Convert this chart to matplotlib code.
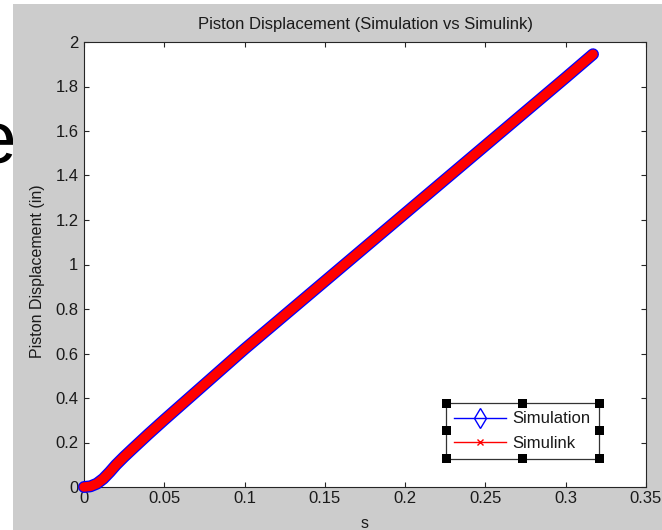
import matplotlib
matplotlib.use("Agg")
import matplotlib.pyplot as plt
import numpy as np
from matplotlib.lines import Line2D
from matplotlib.patches import Rectangle
from matplotlib.ticker import FuncFormatter

plt.rcParams['font.family'] = ['Liberation Sans', 'DejaVu Sans']

# --- data ---
t = [0, 0.004, 0.008, 0.012, 0.016, 0.02, 0.025, 0.03, 0.04, 0.05, 0.1, 0.15, 0.2, 0.25, 0.3, 0.317]
sim_y = [0, 0.003, 0.015, 0.037, 0.067, 0.1, 0.136, 0.17, 0.237, 0.302, 0.62, 0.925, 1.23, 1.535, 1.84, 1.945]
slk_y = [0, 0.003, 0.015, 0.037, 0.067, 0.1, 0.136, 0.17, 0.237, 0.302, 0.62, 0.925, 1.23, 1.535, 1.84, 1.945]
x_ticks = np.arange(0, 0.351, 0.05)
y_ticks = np.arange(0, 2.01, 0.2)
labels = ["Simulation", "Simulink"]

W, H = 662, 530
fig = plt.figure(figsize=(W / 100, H / 100), dpi=100, facecolor="white")

# 灰底 (matlab figure) + 左邊被切到的投影片文字
fig.patches.append(Rectangle((13 / W, 0), 1 - 13 / W, 1 - 4 / H, transform=fig.transFigure,
                             facecolor="#cccccc", edgecolor="none", zorder=-2))
fig.text(17 / W, 1 - 163 / H, "e", fontsize=54, ha="right", va="baseline", color="black", zorder=-3)

ax = fig.add_axes([84 / W, 1 - 487 / H, 562 / W, 445 / H])
ax.set_facecolor("white")

ax.plot(t, sim_y, color="#0000ff", lw=8.6, solid_capstyle="round", clip_on=False, zorder=3)
ax.plot(t, slk_y, color="#ff0000", lw=6.8, solid_capstyle="round", clip_on=False, zorder=4)

ax.set_xlim(0, 0.35)
ax.set_ylim(0, 2)
ax.set_xticks(x_ticks)
ax.set_yticks(y_ticks)
fmt = FuncFormatter(lambda v, p: f"{v:g}")
ax.xaxis.set_major_formatter(fmt)
ax.yaxis.set_major_formatter(fmt)
ax.tick_params(direction="in", length=3.6, width=0.8, top=True, right=True,
               labelsize=12, colors="#262626", labelcolor="#1a1a1a")
ax.tick_params(axis="x", pad=3)
ax.tick_params(axis="y", pad=4)
for s in ax.spines.values():
    s.set_color("#262626")
    s.set_linewidth(0.8)

ax.set_title("Piston Displacement (Simulation vs Simulink)", fontsize=12, pad=9, color="#1a1a1a")
ax.set_ylabel("Piston Displacement (in)", fontsize=11.5, color="#1a1a1a", va="center")
ax.yaxis.set_label_coords((38 - 84) / 562, (487 - 271) / 445)
ax.set_xlabel("s", fontsize=11.5, color="#1a1a1a", va="center")
ax.xaxis.set_label_coords(0.5, (487 - 524) / 445)

h1 = Line2D([], [], color="#0000ff", lw=1, marker="d", ms=10, mfc="none", mew=1)
h2 = Line2D([], [], color="#ff0000", lw=1, marker="x", ms=4.5, mew=1)
leg = ax.legend([h1, h2], labels, loc="upper left", bbox_to_anchor=(446 / W, 1 - 403 / H),
                bbox_transform=fig.transFigure, borderaxespad=0, fontsize=12, fancybox=False,
                edgecolor="#333333", framealpha=1, handlelength=3.1, handletextpad=0.4,
                borderpad=0.5, labelspacing=0.55)
leg.get_frame().set_linewidth(0.9)
for txt in leg.get_texts():
    txt.set_color("#1a1a1a")

# legend 選取框的黑色小方塊
fig.canvas.draw()
bb = leg.get_frame().get_window_extent()
sq = 9
xs = [bb.x0, (bb.x0 + bb.x1) / 2, bb.x1]
ys = [bb.y0, (bb.y0 + bb.y1) / 2, bb.y1]
for i, px in enumerate(xs):
    for j, py in enumerate(ys):
        if i == 1 and j == 1:
            continue
        fig.patches.append(Rectangle(((px - sq / 2) / W, (py - sq / 2) / H), sq / W, sq / H,
                                     transform=fig.transFigure, facecolor="black",
                                     edgecolor="none", zorder=10))

fig.savefig("out.png", dpi=100)
